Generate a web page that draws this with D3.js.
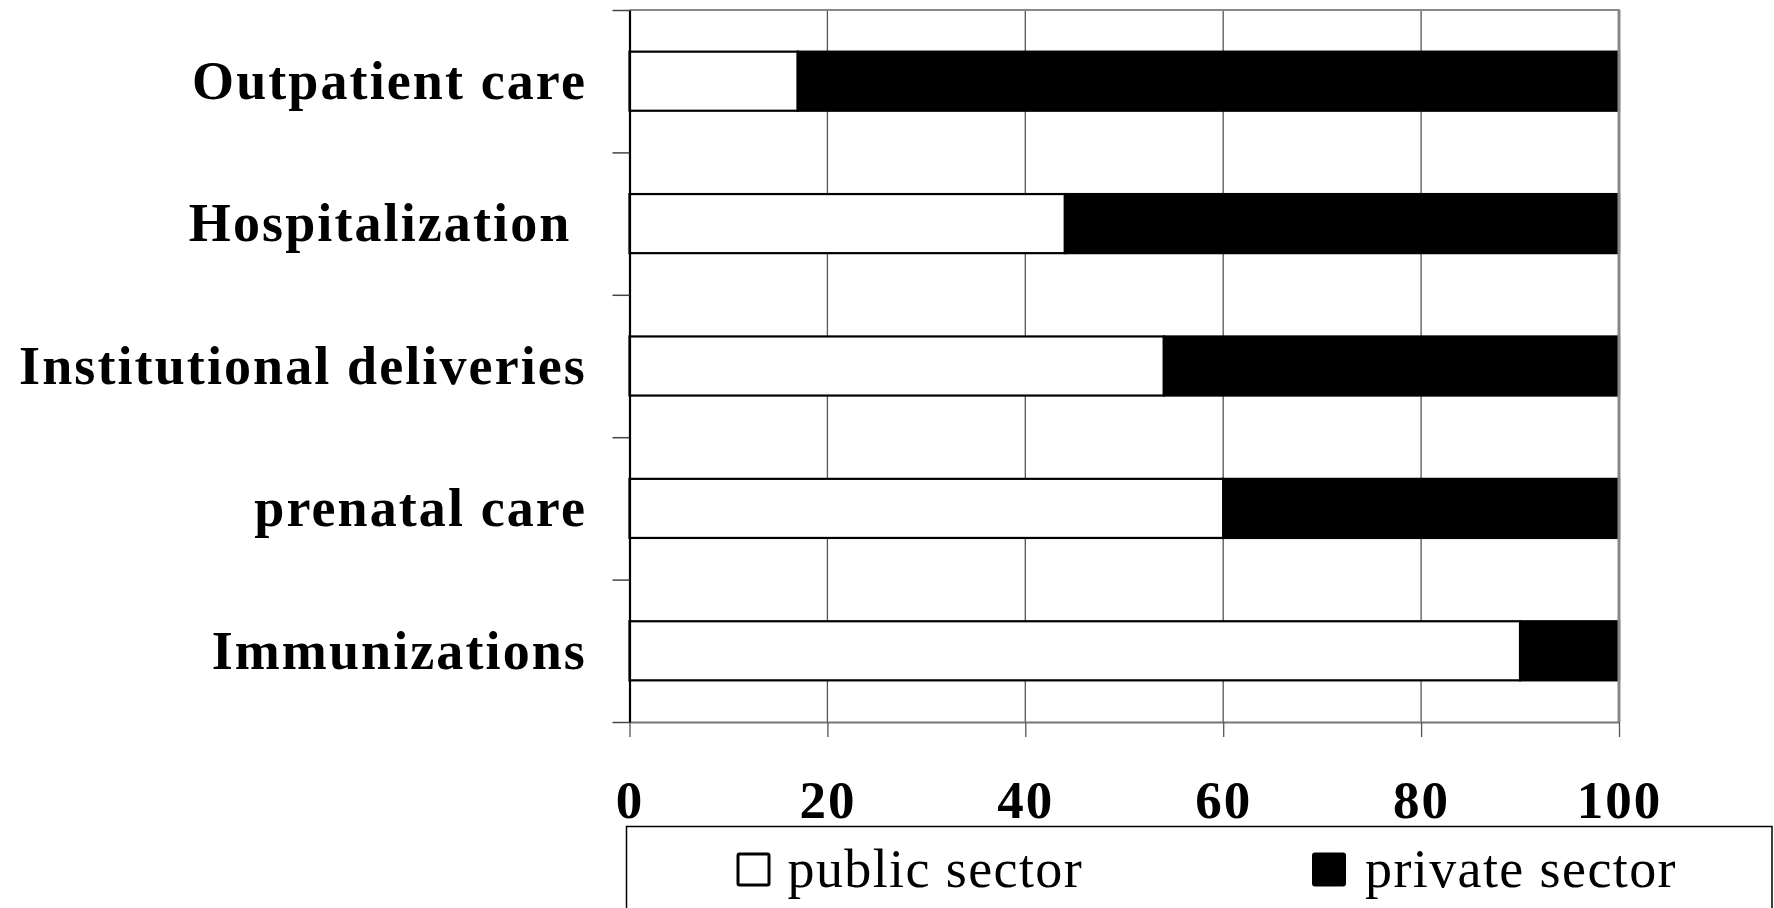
<!DOCTYPE html>
<html>
<head>
<meta charset="utf-8">
<script src="https://cdn.jsdelivr.net/npm/d3@7"></script>
<style>
  html, body { margin: 0; padding: 0; background: #fff; }
  svg { display: block; }
  text { font-family: "Liberation Serif", "Times New Roman", serif; white-space: pre; }
</style>
</head>
<body>
<svg id="chart" width="1774" height="908"></svg>
<script>
// Share of services used, by sector (%)
const categories = ["Outpatient care", "Hospitalization ", "Institutional deliveries", "prenatal care", "Immunizations"];
const publicSector = [17, 44, 54, 60, 90];
const privateSector = [83, 56, 46, 40, 10];
const seriesNames = ["public sector", "private sector"];
const xTicks = [0, 20, 40, 60, 80, 100];

const svg = d3.select("#chart");
const plotLeft = 629.5, plotRight = 1619, plotTop = 10, plotBottom = 722;

const x = d3.scaleLinear().domain([0, 100]).range([plotLeft, plotRight]);
const y = d3.scaleBand().domain(categories).range([plotTop, plotBottom]).padding(0);
const barFrac = 0.415;
const barH = y.bandwidth() * barFrac;
const barOff = (y.bandwidth() - barH) / 2;

// vertical gridlines
svg.append("g")
  .selectAll("line")
  .data(xTicks.filter(d => d > 0 && d < 100))
  .join("line")
  .attr("x1", d => x(d)).attr("x2", d => x(d))
  .attr("y1", plotTop).attr("y2", plotBottom)
  .attr("stroke", "#555").attr("stroke-width", 1.3);

// stacked bars
const rows = categories.map((c, i) => ({ cat: c, pub: publicSector[i], priv: privateSector[i] }));
const stack = d3.stack().keys(["pub", "priv"])(rows);
const fills = { pub: "#fff", priv: "#000" };

svg.append("g")
  .selectAll("g")
  .data(stack)
  .join("g")
  .attr("fill", d => fills[d.key])
  .selectAll("rect")
  .data(d => d)
  .join("rect")
  .attr("x", d => x(d[0]))
  .attr("width", d => x(d[1]) - x(d[0]))
  .attr("y", d => y(d.data.cat) + barOff)
  .attr("height", barH)
  .attr("stroke", "#000")
  .attr("stroke-width", 2.2);

// frame: top and right edges in grey
svg.append("line").attr("x1", plotLeft).attr("x2", plotRight + 1).attr("y1", plotTop).attr("y2", plotTop)
  .attr("stroke", "#888").attr("stroke-width", 2.2);
svg.append("line").attr("x1", plotRight).attr("x2", plotRight).attr("y1", plotTop).attr("y2", plotBottom)
  .attr("stroke", "#888").attr("stroke-width", 3);

// bottom axis
const xAxis = svg.append("g")
  .attr("transform", `translate(0,${plotBottom})`)
  .call(d3.axisBottom(x).tickValues(xTicks).tickSize(15).tickSizeOuter(0).tickFormat(d3.format("d")));
xAxis.select(".domain").attr("stroke", "#777").attr("stroke-width", 1.8);
xAxis.selectAll(".tick line").attr("stroke", "#555").attr("stroke-width", 1.3);
xAxis.selectAll(".tick text")
  .attr("y", 96).attr("dy", 0)
  .attr("fill", "#000")
  .style("font-family", "'Liberation Serif', serif")
  .style("font-weight", "bold")
  .style("font-size", "53px")
  .style("letter-spacing", "2px");

// left axis: ticks at category boundaries
const edges = d3.scaleLinear().domain([0, categories.length]).range([plotTop, plotBottom]);
const yAxis = svg.append("g")
  .attr("transform", `translate(${plotLeft},0)`)
  .call(d3.axisLeft(edges).tickValues(d3.range(0, categories.length + 1)).tickSize(17).tickSizeOuter(0).tickFormat(""));
yAxis.select(".domain").attr("stroke", "#000").attr("stroke-width", 2.2);
yAxis.selectAll(".tick line").attr("stroke", "#444").attr("stroke-width", 1.5);

// category labels
svg.append("g")
  .selectAll("text")
  .data(categories)
  .join("text")
  .attr("x", 587)
  .attr("y", d => y(d) + y.bandwidth() / 2)
  .attr("dy", "0.33em")
  .attr("text-anchor", "end")
  .style("font-weight", "bold")
  .style("font-size", "54px")
  .style("letter-spacing", "2.1px")
  .text(d => d);

// legend
const legend = svg.append("g");
legend.append("rect")
  .attr("x", 626.5).attr("y", 826.5).attr("width", 1145.5).attr("height", 100)
  .attr("fill", "#fff").attr("stroke", "#000").attr("stroke-width", 1.5);
const legendX = [736.5, 1312];
const legendFill = ["#fff", "#000"];
const items = legend.selectAll("g.item")
  .data(seriesNames)
  .join("g")
  .attr("class", "item")
  .attr("transform", (d, i) => `translate(${legendX[i]},0)`);
items.append("rect")
  .attr("x", 1.5).attr("y", 854).attr("width", 31).attr("height", 31)
  .attr("fill", (d, i) => legendFill[i])
  .attr("stroke", "#000").attr("stroke-width", 3)
  .attr("rx", 1.5);
items.append("text")
  .attr("x", (d, i) => i === 0 ? 51 : 53)
  .attr("y", 887)
  .style("font-size", "54px")
  .style("letter-spacing", "1.4px")
  .text(d => d);
</script>
</body>
</html>
